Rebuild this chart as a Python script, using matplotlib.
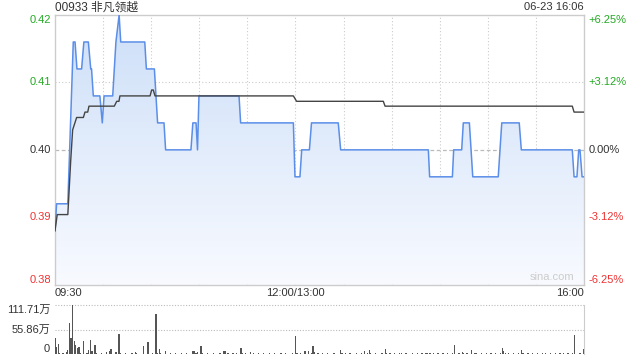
import numpy as np
import matplotlib
matplotlib.use('Agg')
import matplotlib.pyplot as plt
from matplotlib.colors import LinearSegmentedColormap

plt.rcParams['font.family'] = ['Liberation Sans', 'Noto Sans CJK SC']
plt.rcParams['axes.unicode_minus'] = False

# 基本信息
title = '00933 非凡领越'
stamp = '06-23 16:06'
prev_close = 0.40

# 分时价格（分钟, 价格），09:30 为 0，午休后 13:00 接 150
price_t = [0, 1, 8, 11.4, 12.5, 13.7, 16.6, 18, 20.8, 22.3, 22.8, 23.9, 28, 29.5, 30.6,
           36, 38, 40, 41, 56, 57, 62, 63, 64, 68, 69, 84.8, 86, 88, 88.9, 89.8,
           114.8, 115.8, 148.7, 149.7, 152.8, 153.9, 158.7, 160, 176.7, 178.2,
           232.9, 233.7, 247.9, 248.7, 253.7, 254.7, 258.5, 260.6, 276.5, 278.7,
           289.6, 290.9, 322.7, 323.8, 325.6, 326.7, 327.5, 328.8, 330]
price_v = [0.385, 0.390, 0.390, 0.420, 0.420, 0.415, 0.415, 0.420, 0.420, 0.415, 0.415,
           0.410, 0.410, 0.405, 0.410, 0.410, 0.420, 0.425, 0.420, 0.420, 0.415, 0.415,
           0.410, 0.405, 0.405, 0.400, 0.400, 0.405, 0.405, 0.400, 0.410, 0.410, 0.405,
           0.405, 0.395, 0.395, 0.400, 0.400, 0.405, 0.405, 0.400, 0.400, 0.395, 0.395,
           0.400, 0.400, 0.405, 0.405, 0.395, 0.395, 0.405, 0.405, 0.400, 0.400, 0.395,
           0.395, 0.400, 0.400, 0.395, 0.395]

# 均价线
avg_t = [0, 1.4, 8, 9.8, 11, 13.5, 17.7, 18.7, 20.4, 21.2, 37, 38.5, 39.9, 40.5, 59.3,
         60.3, 61.3, 62.4, 148.7, 150.7, 204.8, 205.9, 322.7, 323.8, 330]
avg_v = [0.385, 0.388, 0.388, 0.398, 0.4037, 0.406, 0.406, 0.407, 0.407, 0.4081, 0.4081,
         0.409, 0.409, 0.410, 0.410, 0.4111, 0.4111, 0.410, 0.410, 0.409, 0.409, 0.4081,
         0.4081, 0.407, 0.407]

# 每分钟成交量（万）
volume = [38, 17, 24, 3, 1, 2, 1, 5, 10, 72, 37, 111.71, 31, 21, 14, 17, 2, 1, 30, 1, 2, 10, 33, 8, 1, 21, 2, 1, 1, 2,
          1, 1, 6, 1, 7, 12, 1, 1, 6, 1, 47, 2, 1, 1, 2, 1, 1, 1, 2, 1, 6, 2, 1, 1, 1, 19, 1, 1, 28, 1,
          1, 2, 1, 91, 2, 12, 2, 1, 1, 8, 1, 1, 2, 1, 1, 2, 1, 1, 1, 2, 1, 1, 2, 1, 1, 1, 7, 7, 2, 6,
          1, 19, 2, 1, 1, 2, 1, 1, 1, 2, 1, 1, 1, 2, 1, 8, 7, 1, 2, 1, 1, 2, 1, 4, 1, 1, 14, 4, 1, 2,
          1, 1, 6, 1, 2, 1, 1, 2, 1, 1, 2, 1, 1, 1, 2, 1, 1, 2, 1, 1, 1, 2, 1, 1, 2, 1, 1, 1, 2, 1,
          41, 4, 1, 2, 1, 1, 7, 1, 7, 1, 2, 18, 6, 1, 2, 1, 1, 2, 1, 1, 2, 1, 1, 1, 2, 1, 1, 1, 10, 4,
          1, 2, 1, 1, 2, 1, 1, 1, 2, 1, 1, 2, 1, 8, 1, 2, 10, 4, 1, 1, 2, 1, 1, 1, 2, 1, 12, 4, 1, 2,
          1, 1, 2, 1, 1, 2, 4, 1, 1, 2, 1, 1, 1, 2, 1, 1, 2, 1, 1, 4, 1, 2, 4, 1, 4, 1, 2, 1, 1, 2,
          1, 1, 2, 1, 1, 2, 1, 1, 2, 20, 1, 1, 2, 1, 5, 4, 1, 2, 1, 1, 10, 1, 2, 2, 1, 1, 2, 1, 1, 2,
          1, 1, 2, 1, 1, 2, 1, 1, 2, 14, 8, 4, 1, 2, 1, 1, 2, 1, 1, 2, 1, 10, 2, 1, 1, 2, 1, 1, 2, 1,
          1, 2, 1, 1, 2, 1, 4, 1, 1, 2, 1, 1, 2, 1, 1, 2, 1, 2, 1, 1, 2, 1, 1, 2, 43, 1, 1, 2, 2, 1,
          12]

# 坐标刻度
price_ticks = [0.375, 0.3875, 0.40, 0.4125, 0.425]
price_labels = ['0.38', '0.39', '0.40', '0.41', '0.42']
pct_labels = ['-6.25%', '-3.12%', '0.00%', '+3.12%', '+6.25%']
time_labels = ['09:30', '12:00/13:00', '16:00']
time_pos = [0, 150, 330]
vol_ticks = [0, 55.86, 111.71]
vol_labels = ['0', '55.86万', '111.71万']

green = '#22aa22'
red = '#ee3333'
dark = '#333333'
tick_colors = [red, red, dark, green, green]

fig = plt.figure(figsize=(6.4, 3.6), dpi=100)
ax = fig.add_axes([55/640, 1-284.7/360, 529/640, 269.7/360])
axv = fig.add_axes([55/640, 1-354.3/360, 529/640, 49.3/360])

ax.set_xlim(0, 330)
ax.set_ylim(0.375, 0.425)
ax.set_xticks([])
ax.set_yticks([])
for s in ax.spines.values():
    s.set_color('#cccccc')
    s.set_linewidth(1)

## 网格线：每30分钟一条竖线
for m in range(30, 330, 30):
    ax.axvline(m, color='#cccccc', lw=0.8, ls=(0, (1, 2)), zorder=1)
for v in price_ticks[1:-1]:
    if v == prev_close:
        ax.axhline(v, color='#bbbbbb', lw=0.9, ls=(0, (3, 2)), zorder=1)
    else:
        ax.axhline(v, color='#cccccc', lw=0.8, ls=(0, (1, 2)), zorder=1)

## 价格线下方渐变填充
cmap = LinearSegmentedColormap.from_list('fill', ['#f8faff', '#cddff8'])
grad = np.linspace(0, 1, 256).reshape(-1, 1)
poly = ax.fill_between(price_t, price_v, 0.375, color='none', lw=0)
im = ax.imshow(grad, extent=[0, 330, 0.375, 0.425], origin='lower', aspect='auto',
               cmap=cmap, zorder=2)
im.set_clip_path(poly.get_paths()[0], transform=ax.transData)

ax.plot(price_t, price_v, color='#5b8ee8', lw=1.1, zorder=3)
ax.plot(avg_t, avg_v, color='#444444', lw=1.0, zorder=4)

## 左右纵轴标签
for v, lab, pl, c in zip(price_ticks, price_labels, pct_labels, tick_colors):
    va = 'center'
    if v == price_ticks[0]:
        va = 'bottom'
    elif v == price_ticks[-1]:
        va = 'top'
    ax.text(-2.2, v, lab, color=c, fontsize=8, ha='right', va=va)
    ax.text(333, v, pl, color=c, fontsize=8, ha='left', va=va)

## 时间轴标签
for p, lab in zip(time_pos, time_labels):
    ha = 'center'
    if p == 0:
        ha = 'left'
    elif p == 330:
        ha = 'right'
    ax.text(p, 0.3743, lab, color=dark, fontsize=8, ha=ha, va='top')

fig.text(55/640, 1-7.5/360, title, color=dark, fontsize=8.5, ha='left', va='center')
fig.text(584/640, 1-7.5/360, stamp, color=dark, fontsize=8, ha='right', va='center')
ax.text(324, 0.3755, 'sina.com', color='#cccccc', fontsize=8, ha='right', va='bottom')

## 成交量
minutes = np.arange(len(volume))
axv.bar(minutes, volume, width=0.8, color='#555555', lw=0)
axv.set_xlim(0, 330)
axv.set_ylim(0, 111.71)
axv.set_xticks([])
axv.set_yticks([])
for k in ['left', 'top', 'bottom']:
    axv.spines[k].set_visible(False)
axv.spines['right'].set_color('#cccccc')
for v in vol_ticks[1:]:
    axv.axhline(v, color='#bbbbbb', lw=0.8, ls=(0, (1, 1.5)), zorder=0, clip_on=False)
for v, lab in zip(vol_ticks, vol_labels):
    va = 'center'
    if v == vol_ticks[0]:
        va = 'bottom'
    elif v == vol_ticks[-1]:
        va = 'top'
    axv.text(-3, v, lab, color=dark, fontsize=8, ha='right', va=va)

fig.savefig('out.png', dpi=100)
